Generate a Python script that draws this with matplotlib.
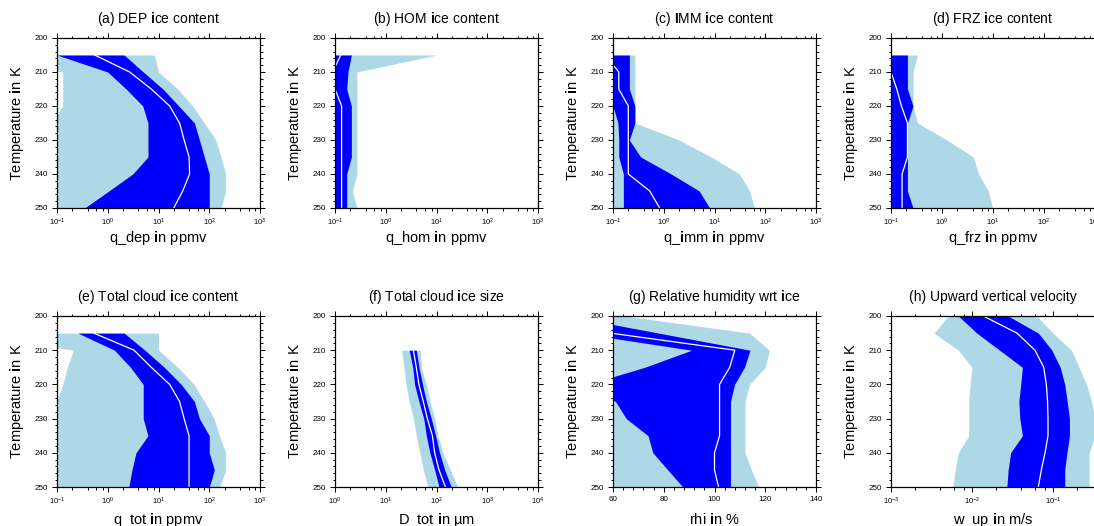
import numpy as np
import matplotlib
matplotlib.use("Agg")
import matplotlib.pyplot as plt
from matplotlib.ticker import (LogLocator, MultipleLocator, LogFormatterSciNotation,
                               NullFormatter)

plt.rcParams['font.family'] = ['Liberation Sans', 'DejaVu Sans']
plt.rcParams['mathtext.fontset'] = 'custom'
plt.rcParams['mathtext.rm'] = 'Liberation Sans'
plt.rcParams['mathtext.bf'] = 'Liberation Sans:bold'
plt.rcParams['mathtext.it'] = 'Liberation Sans:italic'

LIGHT = '#ADD8E6'
BLUE = '#0000FF'

# ---------------- data ----------------
T5 = [205, 210, 215, 220, 225, 230, 235, 240, 245, 250]
T0 = [200, 205, 210, 215, 220, 225, 230, 235, 240, 245, 250]
T10 = [210, 215, 220, 225, 230, 235, 240, 245, 250]

# (a) DEP ice content (ppmv)
a_p_lo = [0.001, 0.13, 0.13, 0.13, 0.077, 0.05, 0.05, 0.05, 0.05, 0.05]
a_p_hi = [8.3, 10, 24, 47, 80, 135, 170, 210, 210, 170]
a_i_lo = [0.1, 1.0, 2.3, 4.9, 6.2, 6.2, 6.2, 3.1, 1.05, 0.35]
a_i_hi = [2.1, 5.0, 12.2, 25, 51, 64, 80, 100, 100, 100]
a_med = [0.55, 2.7, 7.2, 16.6, 26, 32, 40, 41, 30, 20]

# (b) HOM ice content
b_p_lo = [0.01, 0.01, 0.01, 0.01, 0.01, 0.01, 0.01, 0.01, 0.01, 0.01]
b_p_hi = [10, 0.27, 0.27, 0.27, 0.27, 0.27, 0.27, 0.27, 0.22, 0.27]
b_i_lo = [0.01, 0.01, 0.01, 0.01, 0.01, 0.01, 0.01, 0.01, 0.01, 0.01]
b_i_hi = [0.21, 0.18, 0.17, 0.21, 0.21, 0.21, 0.21, 0.17, 0.17, 0.17]
b_med = [0.13, 0.09, 0.1, 0.135, 0.135, 0.135, 0.135, 0.135, 0.135, 0.135]

# (c) IMM ice content
c_p_lo = [0.01, 0.01, 0.01, 0.01, 0.01, 0.01, 0.01, 0.01, 0.01, 0.01]
c_p_hi = [0.27, 0.27, 0.27, 0.27, 0.27, 2.0, 8.6, 31, 49, 61]
c_i_lo = [0.05, 0.05, 0.05, 0.1, 0.125, 0.13, 0.13, 0.16, 0.16, 0.16]
c_i_hi = [0.21, 0.21, 0.21, 0.27, 0.27, 0.21, 0.35, 1.4, 5.0, 8.0]
c_med = [0.07, 0.13, 0.13, 0.2, 0.2, 0.2, 0.2, 0.2, 0.53, 0.83]

# (d) FRZ ice content
d_p_lo = [0.01, 0.01, 0.01, 0.01, 0.01, 0.01, 0.01, 0.01, 0.01, 0.01]
d_p_hi = [0.33, 0.27, 0.27, 0.27, 0.33, 1.24, 4.1, 5.2, 8.1, 9.8]
d_i_lo = [0.01, 0.01, 0.01, 0.01, 0.01, 0.01, 0.01, 0.01, 0.01, 0.01]
d_i_hi = [0.21, 0.21, 0.21, 0.27, 0.21, 0.21, 0.21, 0.21, 0.21, 0.27]
d_med = [0.05, 0.1, 0.13, 0.16, 0.21, 0.21, 0.21, 0.165, 0.165, 0.165]

# (e) Total cloud ice content
e_p_lo = [0.001, 0.21, 0.16, 0.13, 0.1, 0.03, 0.03, 0.03, 0.03, 0.03]
e_p_hi = [10, 10, 24, 50, 80, 125, 158, 210, 210, 162]
e_i_lo = [0.26, 1.36, 2.8, 5.0, 5.0, 5.0, 6.2, 3.6, 3.0, 2.6]
e_i_hi = [2.1, 5.4, 13, 28, 51, 64, 100, 100, 126, 100]
e_med = [0.53, 3.3, 7.2, 16.6, 26, 32, 40, 40, 40, 40]

# (f) Total cloud ice size (um)
f_p_lo = [20.5, 23, 25, 29, 35, 40, 47, 55, 68]
f_p_hi = [48, 50, 63, 74, 92, 107, 134, 187, 263]
f_i_lo = [29, 34, 37, 45, 56, 63, 74, 92, 112]
f_i_hi = [40, 45, 53, 63, 79, 96, 115, 145, 195]
f_med = [35, 40, 45, 55, 66, 83, 92, 112, 150]

# (g) Relative humidity wrt ice (%)
g_p_lo = [40, 40, 40, 40, 40, 40, 40, 40, 40, 40, 40]
g_p_hi = [64.6, 113.8, 121.6, 120, 113.8, 112, 112, 112, 112, 114.5, 117.5]
g_i_lo = [30, 46.7, 91, 72.5, 50, 61, 65.2, 73.8, 75.7, 81.6, 87.5]
g_i_hi = [42, 78, 114, 111.8, 107.9, 106.3, 106.3, 106.3, 106.3, 106.3, 106.3]
g_med = [45, 59, 108, 106, 102, 102, 102, 102, 100, 100, 101.6]

# (h) Upward vertical velocity (m/s)
h_p_lo = [0.0051, 0.0034, 0.0068, 0.010, 0.0095, 0.0091, 0.0091, 0.0091, 0.0068, 0.0062, 0.0058]
h_p_hi = [0.063, 0.10, 0.17, 0.21, 0.26, 0.30, 0.33, 0.33, 0.28, 0.28, 0.28]
h_i_lo = [0.0068, 0.0115, 0.022, 0.042, 0.040, 0.038, 0.039, 0.042, 0.030, 0.028, 0.027]
h_i_hi = [0.028, 0.066, 0.097, 0.123, 0.14, 0.15, 0.16, 0.16, 0.149, 0.14, 0.14]
h_med = [0.0138, 0.036, 0.060, 0.077, 0.083, 0.086, 0.087, 0.087, 0.08, 0.072, 0.066]

B = r'$\mathbf{i}$'
titles = ['(a) DEP ' + B + 'ce content', '(b) HOM ' + B + 'ce content',
          '(c) ' + r'$\mathbf{I}$' + 'MM ' + B + 'ce content', '(d) FRZ ' + B + 'ce content',
          '(e) Total cloud ' + B + 'ce content', '(f) Total cloud ' + B + 'ce size',
          '(g) Relative humidity wrt ' + B + 'ce', '(h) Upward vertical velocity']
xlabels = ['q_dep ' + B + 'n ppmv', 'q_hom ' + B + 'n ppmv', 'q_' + B + 'mm ' + B + 'n ppmv',
           'q_frz ' + B + 'n ppmv', 'q_tot ' + B + 'n ppmv', 'D_tot ' + B + 'n \u00b5m',
           'rh' + 'i ' + B + 'n %', 'w_up ' + B + 'n m/s']
ylabel = 'Temperature ' + B + 'n K'

panels = [
    (T5, a_p_lo, a_p_hi, a_i_lo, a_i_hi, a_med, 'log', (0.1, 1000)),
    (T5, b_p_lo, b_p_hi, b_i_lo, b_i_hi, b_med, 'log', (0.1, 1000)),
    (T5, c_p_lo, c_p_hi, c_i_lo, c_i_hi, c_med, 'log', (0.1, 1000)),
    (T5, d_p_lo, d_p_hi, d_i_lo, d_i_hi, d_med, 'log', (0.1, 1000)),
    (T5, e_p_lo, e_p_hi, e_i_lo, e_i_hi, e_med, 'log', (0.1, 1000)),
    (T10, f_p_lo, f_p_hi, f_i_lo, f_i_hi, f_med, 'log', (1, 1e4)),
    (T0, g_p_lo, g_p_hi, g_i_lo, g_i_hi, g_med, 'linear', (60, 140)),
    (T0, h_p_lo, h_p_hi, h_i_lo, h_i_hi, h_med, 'log', (1e-3, 10 ** -0.48)),
]

# ---------------- layout ----------------
W, H = 1094, 526
fig = plt.figure(figsize=(W / 100, H / 100), dpi=100)
lefts = [57, 335, 613, 891]
widths = [203, 203, 203, 204]
rows = [(38, 208), (316, 487)]
xlab_off = [30, 33]

for k, (T, plo, phi, ilo, ihi, med, xs, xl) in enumerate(panels):
    r, c = divmod(k, 4)
    top, bot = rows[r]
    wpx = widths[c]
    hpx = bot - top
    ax = fig.add_axes([lefts[c] / W, 1 - bot / H, wpx / W, hpx / H])
    ax.set_xscale(xs)
    ax.fill_betweenx(T, plo, phi, color=LIGHT, linewidth=0, zorder=1)
    ax.fill_betweenx(T, ilo, ihi, color=BLUE, linewidth=0, zorder=2)
    ax.plot(med, T, color='white', lw=0.9, zorder=3)
    ax.set_xlim(*xl)
    ax.set_ylim(250, 200)
    ax.yaxis.set_major_locator(MultipleLocator(10))
    ax.yaxis.set_minor_locator(MultipleLocator(2))
    if xs == 'log':
        ax.xaxis.set_major_locator(LogLocator(base=10, numticks=20))
        ax.xaxis.set_minor_locator(LogLocator(base=10, subs=[2, 4, 6, 8], numticks=20))
        ax.xaxis.set_major_formatter(LogFormatterSciNotation())
        ax.xaxis.set_minor_formatter(NullFormatter())
        xls = 5.5
    else:
        ax.xaxis.set_major_locator(MultipleLocator(20))
        ax.xaxis.set_minor_locator(MultipleLocator(4))
        xls = 5.8
    ax.tick_params(which='both', direction='out', top=True, right=True,
                   width=0.7, color='black')
    ax.tick_params(which='major', length=3.6)
    ax.tick_params(which='minor', length=1.8)
    ax.tick_params(axis='y', labelsize=5.8, pad=3.2)
    ax.tick_params(axis='x', labelsize=xls, pad=2.8)
    for sp in ax.spines.values():
        sp.set_linewidth(0.9)
        sp.set_zorder(5)
    ax.text(0.5, 1 + 15 / hpx, titles[k], transform=ax.transAxes,
            ha='center', va='baseline', fontsize=10)
    ax.text(-40 / wpx, 0.5, ylabel, transform=ax.transAxes, rotation=90,
            ha='center', va='center', fontsize=10.5)
    ax.text(0.5, -xlab_off[r] / hpx, xlabels[k], transform=ax.transAxes,
            ha='center', va='center', fontsize=10.5)

fig.savefig('out.png', dpi=100, facecolor='white')
